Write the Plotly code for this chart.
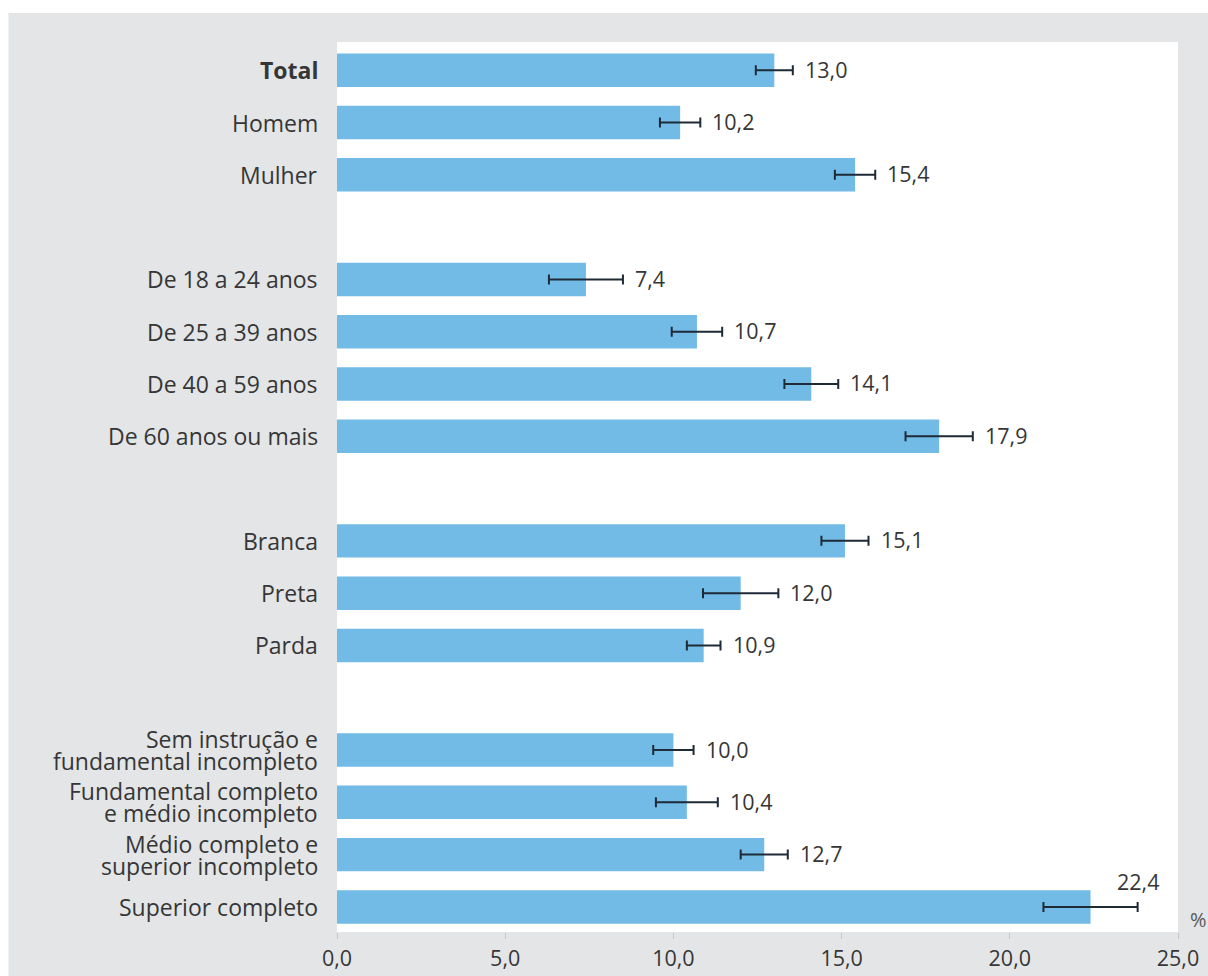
import plotly.graph_objects as go

# ---- data ----
sex_labels = ["Total", "Homem", "Mulher"]
sex_values = [13.0, 10.2, 15.4]
sex_err = [0.55, 0.6, 0.6]

age_labels = ["De 18 a 24 anos", "De 25 a 39 anos", "De 40 a 59 anos", "De 60 anos ou mais"]
age_values = [7.4, 10.7, 14.1, 17.9]
age_err = [1.1, 0.75, 0.8, 1.0]

race_labels = ["Branca", "Preta", "Parda"]
race_values = [15.1, 12.0, 10.9]
race_err = [0.7, 1.12, 0.5]

edu_labels = ["Sem instrução e<br>fundamental incompleto",
              "Fundamental completo<br>e médio incompleto",
              "Médio completo e<br>superior incompleto",
              "Superior completo"]
edu_values = [10.0, 10.4, 12.7, 22.4]
edu_err = [0.6, 0.92, 0.7, 1.4]

x_ticks = [0, 5, 10, 15, 20, 25]
x_tick_labels = ["0,0", "5,0", "10,0", "15,0", "20,0", "25,0"]

groups = [(sex_labels, sex_values, sex_err),
          (age_labels, age_values, age_err),
          (race_labels, race_values, race_err),
          (edu_labels, edu_values, edu_err)]

# build category order with blank spacer slots between groups
cat_order, cats, vals, errs = [], [], [], []
for gi, (labs, vs, es) in enumerate(groups):
    if gi > 0:
        cat_order.append(" " * gi)
    cat_order += labs
    cats += labs
    vals += vs
    errs += es

FONT = "Open Sans, Noto Sans, DejaVu Sans, sans-serif"
TXT = "#363636"

fig = go.Figure()
fig.add_trace(go.Bar(
    y=cats, x=vals, orientation="h",
    marker=dict(color="#72bbe7", line=dict(width=0)),
    width=0.64,
    error_x=dict(type="data", array=errs, visible=True,
                 color="#1e2a36", thickness=2, width=5),
    hoverinfo="skip",
))

annotations = []
# value labels
for c, v, e in zip(cats, vals, errs):
    label = ("%.1f" % v).replace(".", ",")
    if c == "Superior completo":
        annotations.append(dict(x=v + e, y=c, xref="x", yref="y", text=label,
                                showarrow=False, xanchor="center", yanchor="middle",
                                yshift=25, font=dict(family=FONT, size=21.5, color=TXT)))
    else:
        annotations.append(dict(x=v + e, y=c, xref="x", yref="y", text=label,
                                showarrow=False, xanchor="left", yanchor="middle",
                                xshift=10, yshift=1, font=dict(family=FONT, size=21.5, color=TXT)))

# category labels (one annotation per line, for tight line spacing)
for c in cats:
    lines = c.split("<br>")
    n = len(lines)
    for i, ln in enumerate(lines):
        txt = "<b>%s</b>" % ln if ln == "Total" else ln
        annotations.append(dict(x=0, y=c, xref="paper", yref="y", text=txt,
                                showarrow=False, xanchor="right", yanchor="middle",
                                xshift=-17, yshift=(n - 1) * 11 - i * 22,
                                font=dict(family=FONT, size=23, color=TXT)))

annotations.append(dict(x=1.012, y=0.014, xref="paper", yref="paper", text="%",
                        showarrow=False, xanchor="left", yanchor="middle",
                        font=dict(family=FONT, size=20, color="#5a5a5a")))

shapes = [
    dict(type="rect", xref="paper", yref="paper", x0=-0.5, x1=-0.3907, y0=-0.1, y1=1.1,
         fillcolor="white", line=dict(width=0), layer="above"),
    dict(type="rect", xref="paper", yref="paper", x0=-0.5, x1=1.1, y0=1.0326, y1=1.1,
         fillcolor="white", line=dict(width=0), layer="above"),
]

fig.update_layout(
    width=1208, height=976,
    margin=dict(l=337, r=30, t=42, b=44, autoexpand=False),
    paper_bgcolor="#e3e5e7",
    plot_bgcolor="white",
    showlegend=False,
    annotations=annotations,
    shapes=shapes,
    font=dict(family=FONT, size=21, color=TXT),
    xaxis=dict(range=[0, 25], tickmode="array", tickvals=x_ticks, ticktext=x_tick_labels,
               showgrid=False, zeroline=False, showline=False, automargin=False,
               ticks="outside", ticklen=6, tickwidth=1, tickcolor="#c4c6c8",
               ticklabelstandoff=1,
               tickfont=dict(family=FONT, size=21.5, color=TXT), fixedrange=True),
    yaxis=dict(type="category", categoryorder="array", categoryarray=cat_order,
               range=[16.48, -0.54], showticklabels=False, automargin=False,
               showgrid=False, zeroline=False, showline=False, ticks="",
               fixedrange=True),
)

fig.write_html("out.html")
